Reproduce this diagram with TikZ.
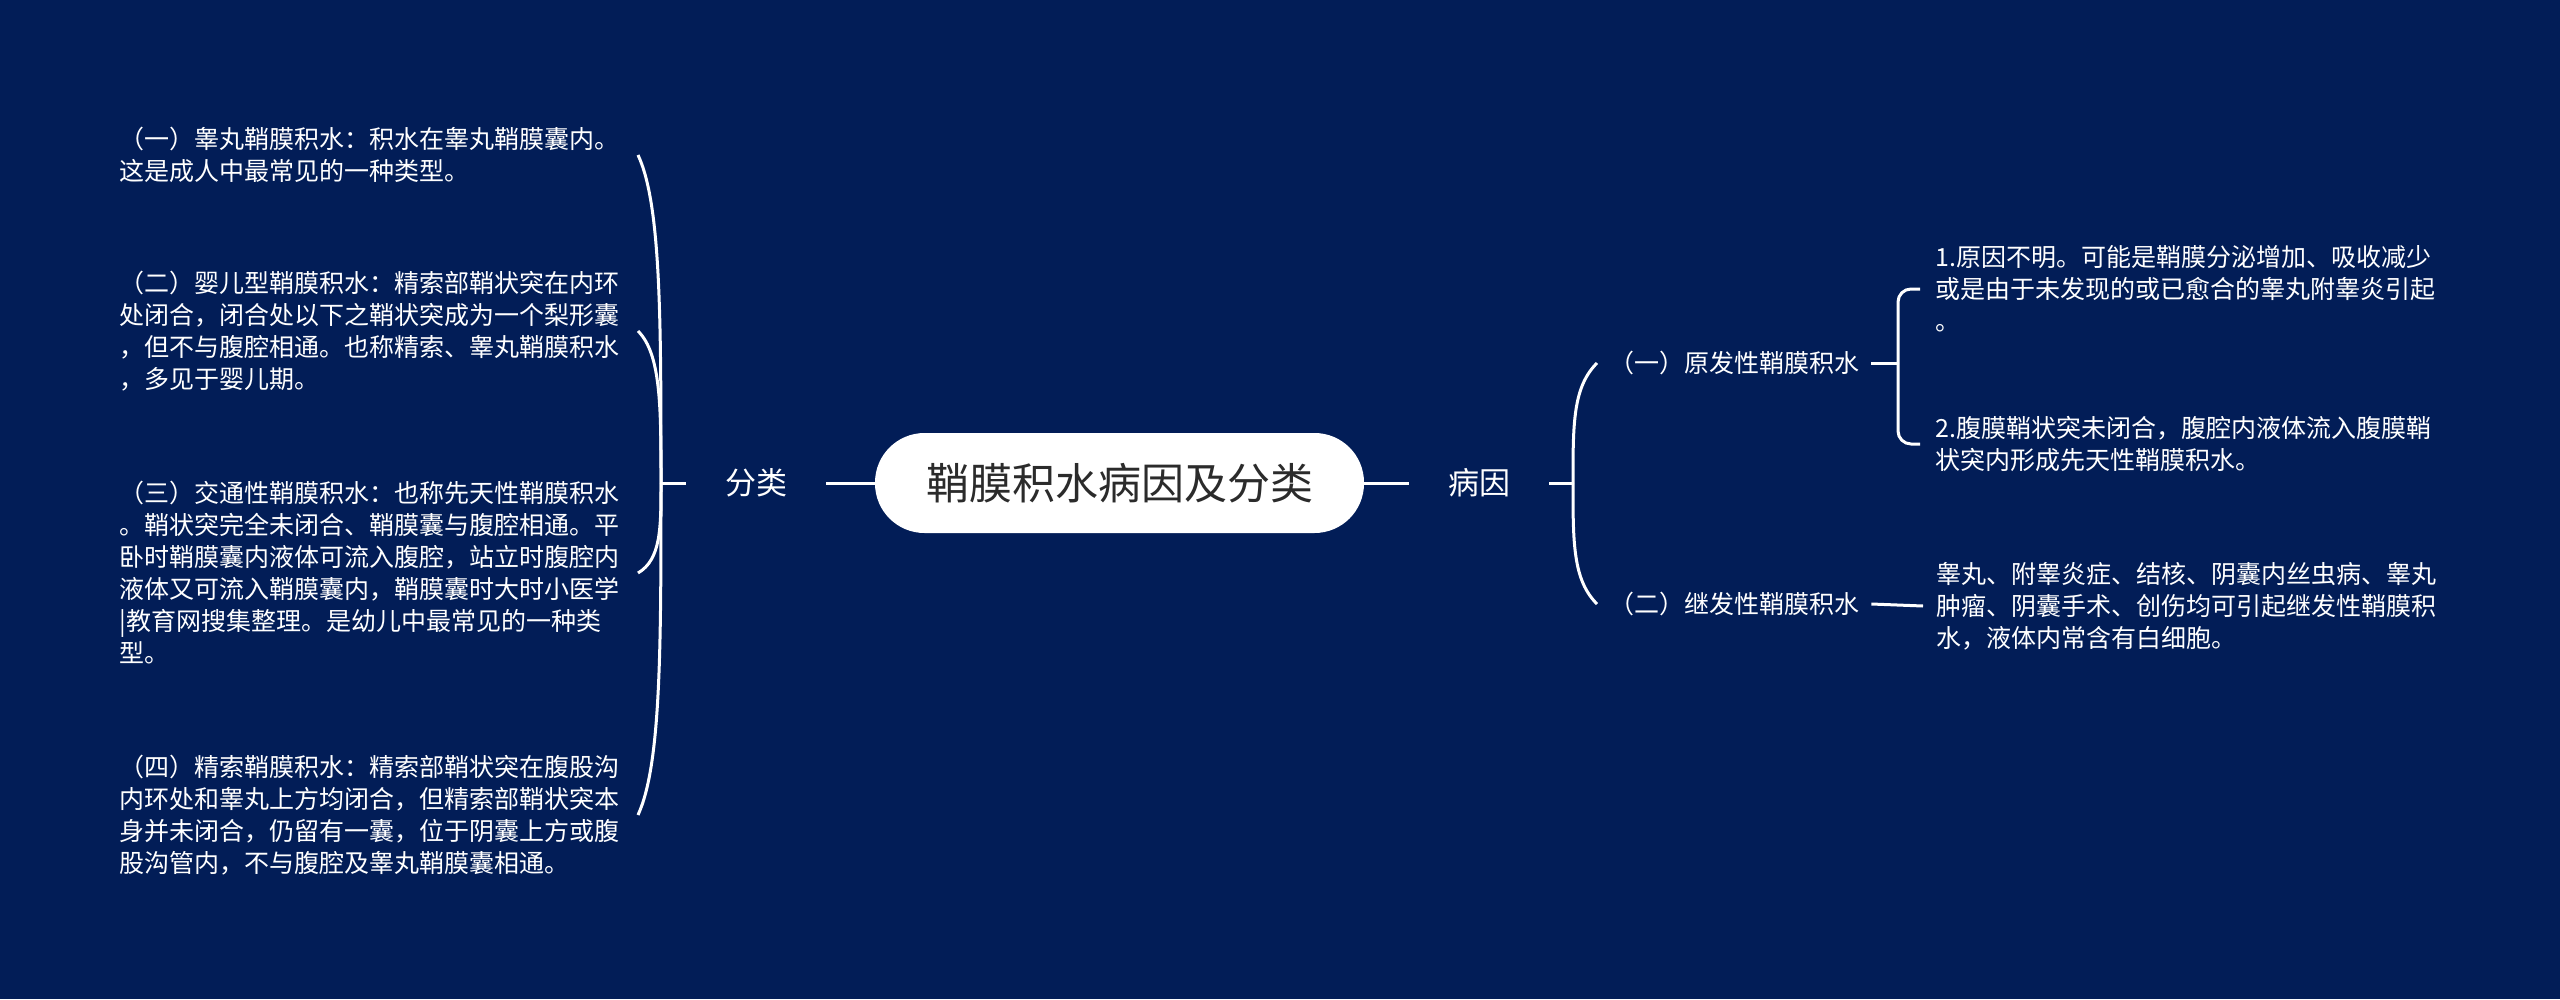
\documentclass[tikz,border=0pt]{standalone}
\usepackage{fontspec}
\setmainfont{Noto Sans CJK SC}
\definecolor{bg}{HTML}{021D57}
\definecolor{titletext}{HTML}{2B2B2B}
\tikzset{
  conn/.style={draw=white, line width=3pt},
  leaf/.style={text=white, align=left, font=\fontsize{25}{32}\selectfont, inner ysep=2pt},
  branchnode/.style={text=white, font=\fontsize{31}{36}\selectfont, inner xsep=39pt, inner ysep=4pt},
  titlenode/.style={fill=white, rounded corners=49.5pt, minimum width=489pt, minimum height=100pt,
    text=titletext, font=\fontsize{43}{50}\selectfont, inner sep=0pt},
}
\begin{document}
\begin{tikzpicture}[x=1pt,y=-1pt]
\fill[bg] (0,0) rectangle (2560,999);

\node[titlenode] (root) at (1119.5,483) {鞘膜积水病因及分类};
\node[branchnode] (fl) at (756,483) {分类};
\node[branchnode] (by) at (1479,483) {病因};
\coordinate (jl) at (661,483);
\coordinate (jr) at (1573,483);
\coordinate (jr1) at (1898,363);

% left leaves
\node[leaf, inner xsep=18pt, anchor=east] (l1) at (638,155) {（一）睾丸鞘膜积水：积水在睾丸鞘膜囊内。\\这是成人中最常见的一种类型。};
\node[leaf, inner xsep=18pt, anchor=east] (l2) at (638,331) {（二）婴儿型鞘膜积水：精索部鞘状突在内环\\处闭合，闭合处以下之鞘状突成为一个梨形囊\\，但不与腹腔相通。也称精索、睾丸鞘膜积水\\，多见于婴儿期。};
\node[leaf, inner xsep=18pt, anchor=east] (l3) at (638,573) {（三）交通性鞘膜积水：也称先天性鞘膜积水\\。鞘状突完全未闭合、鞘膜囊与腹腔相通。平\\卧时鞘膜囊内液体可流入腹腔，站立时腹腔内\\液体又可流入鞘膜囊内，鞘膜囊时大时小医学\\|教育网搜集整理。是幼儿中最常见的一种类\\型。};
\node[leaf, inner xsep=18pt, anchor=east] (l4) at (638,815) {（四）精索鞘膜积水：精索部鞘状突在腹股沟\\内环处和睾丸上方均闭合，但精索部鞘状突本\\身并未闭合，仍留有一囊，位于阴囊上方或腹\\股沟管内，不与腹腔及睾丸鞘膜囊相通。};

% right nodes
\node[leaf, inner xsep=12pt, anchor=west] (r1) at (1597,363) {（一）原发性鞘膜积水};
\node[leaf, inner xsep=12pt, anchor=west] (r2) at (1597,604) {（二）继发性鞘膜积水};
\node[leaf, inner xsep=15pt, anchor=west] (t1) at (1920,289) {1.原因不明。可能是鞘膜分泌增加、吸收减少\\或是由于未发现的或已愈合的睾丸附睾炎引起\\。};
\node[leaf, inner xsep=15pt, anchor=west] (t2) at (1920,444) {2.腹膜鞘状突未闭合，腹腔内液体流入腹膜鞘\\状突内形成先天性鞘膜积水。};
\node[leaf, inner xsep=13pt, anchor=west] (t3) at (1923,606) {睾丸、附睾炎症、结核、阴囊内丝虫病、睾丸\\肿瘤、阴囊手术、创伤均可引起继发性鞘膜积\\水，液体内常含有白细胞。};

% connectors
\draw[conn] (fl.east) -- (root.west);
\draw[conn] (root.east) -- (by.west);
\draw[conn] (fl.west) -- (jl);
\draw[conn] (by.east) -- (jr);

\draw[conn] (jl) .. controls (661,319) and (661,204) .. (l1.east);
\draw[conn] (jl) .. controls (661,407) and (661,354) .. (l2.east);
\draw[conn] (jl) .. controls (661,528) and (661,559.5) .. (l3.east);
\draw[conn] (jl) .. controls (661,649) and (661,765) .. (l4.east);

\draw[conn] (jr) .. controls (1573,423) and (1573,387) .. (r1.west);
\draw[conn] (jr) .. controls (1573,543.5) and (1573,580) .. (r2.west);

\draw[conn] (r1.east) -- (jr1);
\draw[conn, rounded corners=13pt] (jr1) |- (t1.west);
\draw[conn, rounded corners=13pt] (jr1) |- (t2.west);
\draw[conn] (r2.east) -- (t3.west);
\end{tikzpicture}
\end{document}
